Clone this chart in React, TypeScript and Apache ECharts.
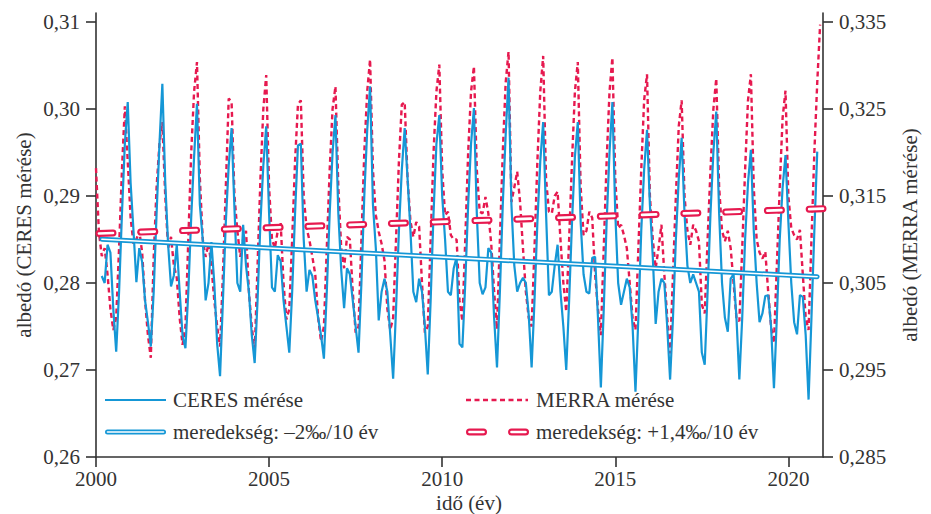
import React, { useEffect, useRef } from "react";
import * as echarts from "echarts";

const YEARS = [2000, 2001, 2002, 2003, 2004, 2005, 2006, 2007, 2008, 2009, 2010, 2011, 2012, 2013, 2014, 2015, 2016, 2017, 2018, 2019, 2020];

// CERES monthly albedo (Jan..Dec), left axis
const CERES: (number | null)[][] = [
  [null, null, 0.2808, 0.2800, 0.2844, 0.2835, 0.2770, 0.2721, 0.2790, 0.2880, 0.2960, 0.3008],
  [0.2915, 0.2860, 0.2801, 0.2840, 0.2824, 0.2780, 0.2755, 0.2727, 0.2790, 0.2880, 0.2960, 0.3029],
  [0.2916, 0.2844, 0.2796, 0.2809, 0.2844, 0.2790, 0.2740, 0.2725, 0.2790, 0.2875, 0.2945, 0.3006],
  [0.2890, 0.2850, 0.2780, 0.2800, 0.2847, 0.2800, 0.2730, 0.2693, 0.2780, 0.2870, 0.2935, 0.2978],
  [0.2885, 0.2800, 0.2790, 0.2867, 0.2820, 0.2790, 0.2740, 0.2708, 0.2780, 0.2870, 0.2935, 0.2980],
  [0.2880, 0.2795, 0.2790, 0.2832, 0.2825, 0.2780, 0.2750, 0.2720, 0.2790, 0.2880, 0.2958, 0.2960],
  [0.2850, 0.2790, 0.2815, 0.2808, 0.2780, 0.2760, 0.2740, 0.2713, 0.2790, 0.2880, 0.2950, 0.2993],
  [0.2880, 0.2815, 0.2771, 0.2817, 0.2810, 0.2780, 0.2750, 0.2720, 0.2800, 0.2900, 0.2975, 0.3026],
  [0.2890, 0.2840, 0.2757, 0.2790, 0.2805, 0.2790, 0.2740, 0.2690, 0.2770, 0.2860, 0.2930, 0.2978],
  [0.2920, 0.2860, 0.2790, 0.2778, 0.2805, 0.2790, 0.2750, 0.2695, 0.2780, 0.2880, 0.2960, 0.2993],
  [0.2900, 0.2850, 0.2790, 0.2786, 0.2817, 0.2830, 0.2730, 0.2726, 0.2800, 0.2890, 0.2960, 0.3001],
  [0.2880, 0.2800, 0.2787, 0.2795, 0.2840, 0.2835, 0.2760, 0.2703, 0.2790, 0.2890, 0.2970, 0.3036],
  [0.2890, 0.2820, 0.2790, 0.2800, 0.2806, 0.2800, 0.2763, 0.2703, 0.2780, 0.2870, 0.2940, 0.2985],
  [0.2880, 0.2786, 0.2790, 0.2820, 0.2844, 0.2790, 0.2750, 0.2700, 0.2780, 0.2870, 0.2945, 0.2985],
  [0.2870, 0.2810, 0.2790, 0.2788, 0.2829, 0.2830, 0.2760, 0.2680, 0.2770, 0.2870, 0.2950, 0.3008],
  [0.2880, 0.2800, 0.2775, 0.2790, 0.2805, 0.2795, 0.2750, 0.2675, 0.2760, 0.2860, 0.2930, 0.2976],
  [0.2890, 0.2830, 0.2753, 0.2790, 0.2805, 0.2800, 0.2750, 0.2689, 0.2760, 0.2850, 0.2920, 0.2967],
  [0.2880, 0.2820, 0.2800, 0.2810, 0.2800, 0.2790, 0.2720, 0.2706, 0.2790, 0.2880, 0.2950, 0.2997],
  [0.2880, 0.2800, 0.2760, 0.2744, 0.2805, 0.2810, 0.2760, 0.2689, 0.2760, 0.2850, 0.2915, 0.2953],
  [0.2860, 0.2800, 0.2755, 0.2765, 0.2785, 0.2786, 0.2750, 0.2679, 0.2760, 0.2850, 0.2910, 0.2947],
  [0.2870, 0.2800, 0.2755, 0.2741, 0.2786, 0.2784, 0.2740, 0.2666, 0.2760, 0.2860, 0.2951, null],
];

// MERRA monthly albedo (Jan..Dec), right axis
const MERRA: (number | null)[][] = [
  [0.3182, 0.3109, 0.3081, 0.3090, 0.3060, 0.3020, 0.2996, 0.3010, 0.3090, 0.3180, 0.3253, 0.3190],
  [0.3125, 0.3095, 0.3100, 0.3110, 0.3085, 0.3030, 0.2990, 0.2964, 0.3080, 0.3160, 0.3210, 0.3235],
  [0.3150, 0.3090, 0.3103, 0.3070, 0.3056, 0.3010, 0.2979, 0.3000, 0.3100, 0.3200, 0.3270, 0.3304],
  [0.3170, 0.3100, 0.3080, 0.3095, 0.3070, 0.3030, 0.3000, 0.2977, 0.3060, 0.3160, 0.3262, 0.3258],
  [0.3150, 0.3110, 0.3080, 0.3100, 0.3110, 0.3040, 0.3000, 0.2970, 0.3070, 0.3170, 0.3250, 0.3289],
  [0.3160, 0.3100, 0.3090, 0.3110, 0.3120, 0.3050, 0.3008, 0.3020, 0.3100, 0.3190, 0.3255, 0.3260],
  [0.3150, 0.3113, 0.3099, 0.3080, 0.3060, 0.3010, 0.2983, 0.3000, 0.3090, 0.3180, 0.3250, 0.3276],
  [0.3160, 0.3090, 0.3067, 0.3103, 0.3100, 0.3040, 0.2993, 0.3000, 0.3100, 0.3200, 0.3270, 0.3307],
  [0.3180, 0.3128, 0.3109, 0.3095, 0.3076, 0.3020, 0.2996, 0.3010, 0.3100, 0.3190, 0.3255, 0.3258],
  [0.3170, 0.3121, 0.3103, 0.3120, 0.3115, 0.3050, 0.2993, 0.3000, 0.3100, 0.3200, 0.3270, 0.3301],
  [0.3180, 0.3128, 0.3132, 0.3105, 0.3100, 0.3100, 0.3030, 0.3006, 0.3100, 0.3200, 0.3270, 0.3299],
  [0.3180, 0.3132, 0.3130, 0.3149, 0.3130, 0.3095, 0.3040, 0.2997, 0.3100, 0.3200, 0.3280, 0.3316],
  [0.3143, 0.3160, 0.3178, 0.3143, 0.3090, 0.3040, 0.3010, 0.3000, 0.3090, 0.3190, 0.3270, 0.3311],
  [0.3170, 0.3132, 0.3130, 0.3150, 0.3155, 0.3100, 0.3050, 0.3017, 0.3100, 0.3190, 0.3270, 0.3304],
  [0.3160, 0.3105, 0.3110, 0.3132, 0.3125, 0.3060, 0.3020, 0.2990, 0.3090, 0.3190, 0.3270, 0.3309],
  [0.3170, 0.3113, 0.3117, 0.3105, 0.3090, 0.3050, 0.3010, 0.2996, 0.3090, 0.3180, 0.3260, 0.3290],
  [0.3150, 0.3100, 0.3067, 0.3090, 0.3117, 0.3060, 0.3010, 0.2969, 0.3060, 0.3150, 0.3230, 0.3260],
  [0.3150, 0.3110, 0.3094, 0.3117, 0.3110, 0.3098, 0.3025, 0.3015, 0.3100, 0.3180, 0.3250, 0.3285],
  [0.3160, 0.3110, 0.3098, 0.3110, 0.3090, 0.3050, 0.3010, 0.3006, 0.3090, 0.3180, 0.3260, 0.3290],
  [0.3160, 0.3100, 0.3085, 0.3078, 0.3086, 0.3040, 0.3000, 0.2981, 0.3070, 0.3160, 0.3240, 0.3271],
  [0.3150, 0.3113, 0.3105, 0.3100, 0.3111, 0.3060, 0.3010, 0.2996, 0.3100, 0.3200, 0.3280, 0.3347],
];

// Trend lines (year, value)
const CERES_TREND: [number, number][] = [[2000.17, 0.28503], [2020.83, 0.28072]];
const MERRA_TREND: [number, number][] = [[2000.0, 0.31068], [2021.0, 0.31354]];

const X_TICKS = [2000, 2005, 2010, 2015, 2020];
const LEFT_TICKS = [0.26, 0.27, 0.28, 0.29, 0.3, 0.31];
const RIGHT_TICKS = [0.285, 0.295, 0.305, 0.315, 0.325, 0.335];

const LABELS = {
  ceres: "CERES mérése",
  merra: "MERRA mérése",
  ceresTrend: "meredekség: –2‰/10 év",
  merraTrend: "meredekség: +1,4‰/10 év",
  yLeft: "albedó (CERES mérése)",
  yRight: "albedó (MERRA mérése)",
  x: "idő (év)",
};

const BLUE = "#1597d6";
const RED = "#e6194f";
const INK = "#333333";
const FONT = '"Liberation Serif", "Times New Roman", serif';
const FS = 21;

function toPoints(rows: (number | null)[][]): [number, number][] {
  const out: [number, number][] = [];
  rows.forEach((row, yi) => {
    row.forEach((v, m) => {
      if (v != null) out.push([YEARS[yi] + m / 12, v]);
    });
  });
  return out;
}

export default function App() {
  const ref = useRef<HTMLDivElement>(null);

  useEffect(() => {
    if (!ref.current) return;
    const chart = echarts.init(ref.current, undefined, { renderer: "svg" });

    const axisCommon = {
      axisLine: { show: true, lineStyle: { color: INK, width: 1.6 } },
      axisTick: { show: true, length: 10, lineStyle: { color: INK, width: 1.6 } },
      splitLine: { show: false },
      nameTextStyle: { color: INK, fontSize: FS, fontFamily: FONT },
      nameMoveOverlap: false,
    };

    const textStyle = (t: string, x: number, y: number) => ({
      type: "text",
      x,
      y,
      z: 100,
      style: { text: t, fill: INK, fontSize: FS, fontFamily: FONT, verticalAlign: "middle", align: "left" },
    });

    chart.setOption({
      animation: false,
      textStyle: { fontFamily: FONT },
      grid: { left: 96, right: 108, top: 13, bottom: 57, containLabel: false, outerBoundsMode: "none" },
      xAxis: {
        type: "value",
        min: 2000,
        max: 2021,
        ...axisCommon,
        name: LABELS.x,
        nameLocation: "middle",
        nameGap: 35,
        nameTextStyle: { ...axisCommon.nameTextStyle, padding: [0, 0, 0, 19] },
        axisTick: { ...axisCommon.axisTick, customValues: X_TICKS },
        axisLabel: {
          customValues: X_TICKS,
          color: INK,
          fontSize: FS,
          fontFamily: FONT,
          margin: 11,
          formatter: (v: number) => String(v),
        },
      },
      yAxis: [
        {
          type: "value",
          position: "left",
          min: 0.26,
          max: 0.311034,
          ...axisCommon,
          name: LABELS.yLeft,
          nameLocation: "middle",
          nameGap: 62,
          nameRotate: 90,
          axisTick: { ...axisCommon.axisTick, customValues: LEFT_TICKS },
          axisLabel: {
            customValues: LEFT_TICKS,
            color: INK,
            fontSize: FS,
            fontFamily: FONT,
            margin: 16,
            formatter: (v: number) => v.toFixed(2).replace(".", ","),
          },
        },
        {
          type: "value",
          position: "right",
          min: 0.285,
          max: 0.336034,
          ...axisCommon,
          name: LABELS.yRight,
          nameLocation: "middle",
          nameGap: 76,
          nameRotate: 90,
          axisTick: { ...axisCommon.axisTick, customValues: RIGHT_TICKS },
          axisLabel: {
            customValues: RIGHT_TICKS,
            color: INK,
            fontSize: FS,
            fontFamily: FONT,
            margin: 16,
            formatter: (v: number) => v.toFixed(3).replace(".", ","),
          },
        },
      ],
      series: [
        {
          name: LABELS.merra,
          type: "line",
          yAxisIndex: 1,
          data: toPoints(MERRA),
          symbol: "none",
          lineStyle: { color: RED, width: 2.4, type: [5, 3.5] },
          z: 2,
        },
        {
          name: LABELS.ceres,
          type: "line",
          yAxisIndex: 0,
          data: toPoints(CERES),
          symbol: "none",
          lineStyle: { color: BLUE, width: 2.2 },
          z: 3,
        },
        {
          name: LABELS.ceresTrend,
          type: "line",
          yAxisIndex: 0,
          data: CERES_TREND,
          symbol: "none",
          lineStyle: { color: BLUE, width: 5, cap: "round" },
          z: 4,
        },
        {
          type: "line",
          yAxisIndex: 0,
          data: CERES_TREND,
          symbol: "none",
          lineStyle: { color: "#ffffff", width: 1.6, cap: "round" },
          z: 5,
        },
        {
          name: LABELS.merraTrend,
          type: "line",
          yAxisIndex: 1,
          data: MERRA_TREND,
          symbol: "none",
          lineStyle: { color: RED, width: 7, type: [14, 27.8], dashOffset: -3.5, cap: "round" },
          z: 6,
        },
        {
          type: "line",
          yAxisIndex: 1,
          data: MERRA_TREND,
          symbol: "none",
          lineStyle: { color: "#ffffff", width: 2.7, type: [14, 27.8], dashOffset: -3.5, cap: "round" },
          z: 7,
        },
      ],
      graphic: [
        { type: "line", z: 100, shape: { x1: 105, y1: 400, x2: 166, y2: 400 }, style: { stroke: BLUE, lineWidth: 2.2 } },
        textStyle(LABELS.ceres, 173, 400),
        { type: "line", z: 100, shape: { x1: 107.5, y1: 432, x2: 163.5, y2: 432 }, style: { stroke: BLUE, lineWidth: 5, lineCap: "round" } },
        { type: "line", z: 101, shape: { x1: 107.5, y1: 432, x2: 163.5, y2: 432 }, style: { stroke: "#ffffff", lineWidth: 1.6, lineCap: "round" } },
        textStyle(LABELS.ceresTrend, 173, 432),
        { type: "line", z: 100, shape: { x1: 466, y1: 400, x2: 528, y2: 400 }, style: { stroke: RED, lineWidth: 2.4, lineDash: [5, 3.5] } },
        textStyle(LABELS.merra, 536, 400),
        { type: "line", z: 100, shape: { x1: 469.5, y1: 432, x2: 483.5, y2: 432 }, style: { stroke: RED, lineWidth: 7, lineCap: "round" } },
        { type: "line", z: 101, shape: { x1: 469.5, y1: 432, x2: 483.5, y2: 432 }, style: { stroke: "#ffffff", lineWidth: 2.7, lineCap: "round" } },
        { type: "line", z: 100, shape: { x1: 511.5, y1: 432, x2: 525.5, y2: 432 }, style: { stroke: RED, lineWidth: 7, lineCap: "round" } },
        { type: "line", z: 101, shape: { x1: 511.5, y1: 432, x2: 525.5, y2: 432 }, style: { stroke: "#ffffff", lineWidth: 2.7, lineCap: "round" } },
        textStyle(LABELS.merraTrend, 536, 432),
      ],
    });

    return () => chart.dispose();
  }, []);

  return (
    <div
      ref={ref}
      style={{ position: "fixed", left: 0, top: 0, width: 931, height: 514, background: "#ffffff" }}
    />
  );
}
